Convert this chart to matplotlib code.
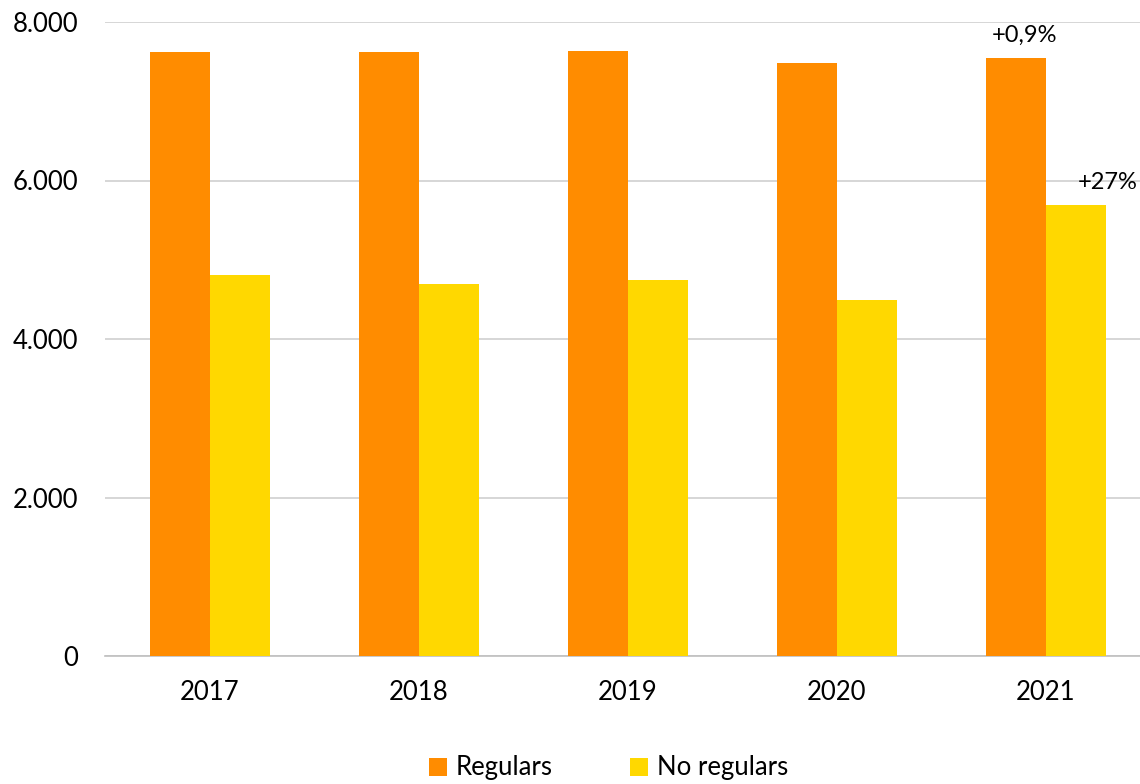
import matplotlib
matplotlib.use("Agg")
import matplotlib.pyplot as plt
from matplotlib.ticker import FuncFormatter
import numpy as np

years = ["2017", "2018", "2019", "2020", "2021"]
regulars = [7621, 7618, 7638, 7483, 7550]
no_regulars = [4808, 4690, 4744, 4488, 5691]
y_ticks = [0, 2000, 4000, 6000, 8000]
label_regulars = "+0,9%"
label_no_regulars = "+27%"

plt.rcParams['font.family'] = ['Lato', 'DejaVu Sans']

fig = plt.figure(figsize=(11.4, 7.84), dpi=100)
ax = fig.add_axes([105/1140, (784-656)/784, (1140-105)/1140, (656-22)/784])

x = np.arange(len(years))
w = 0.287
ax.bar(x - w/2, regulars, width=w, color="#FF8C00", label="Regulars", zorder=3)
ax.bar(x + w/2, no_regulars, width=w, color="#FFD800", label="No regulars", zorder=3)

ax.set_ylim(0, 8000)
ax.set_xlim(-0.502, 4.45)
ax.set_yticks(y_ticks)
ax.yaxis.set_major_formatter(FuncFormatter(lambda v, p: f"{int(v):,}".replace(",", ".")))
ax.set_xticks(x)
ax.set_xticklabels(years)
ax.tick_params(axis='y', length=0, pad=19.5, labelsize=18.5)
ax.tick_params(axis='x', length=0, pad=17, labelsize=18.5)
ax.grid(axis='y', color="#D0D0D0", linewidth=1.2, zorder=0)
for s in ["top", "right", "left"]:
    ax.spines[s].set_visible(False)
ax.spines["bottom"].set_color("#BFBFBF")
ax.spines["bottom"].set_linewidth(1.2)

ax.text(x[-1] - w/2 + 0.04, regulars[-1] + 150, label_regulars, ha='center', va='bottom', fontsize=17)
ax.text(x[-1] + w/2 + 0.15, no_regulars[-1] + 150, label_no_regulars, ha='center', va='bottom', fontsize=17)

leg = fig.legend(loc='center', bbox_to_anchor=(0.534, (784-768)/784), ncol=2,
                 frameon=False, fontsize=18.5, handlelength=0.7, handleheight=0.7,
                 handletextpad=0.35, columnspacing=3.0)

fig.savefig("out.png", dpi=100)
